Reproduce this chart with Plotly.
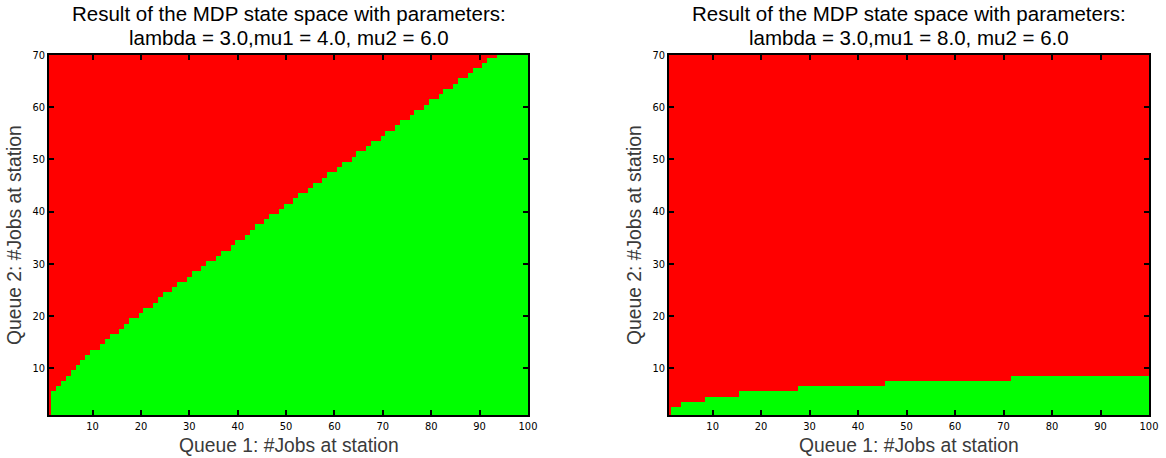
import numpy as np
import plotly.graph_objects as go

# Queue sizes (cell centres)
queue1_jobs = list(range(1, 101))
queue2_jobs = list(range(1, 71))

# Left panel (lambda=3, mu1=4, mu2=6): highest Queue-2 level that is "green" for each Queue-1 column
threshold_left = [
    0, 5, 6, 7, 8, 9, 10, 11, 12, 13,
    13, 14, 15, 16, 16, 17, 18, 19, 19, 20,
    21, 21, 22, 23, 24, 24, 25, 26, 26, 27,
    28, 28, 29, 30, 30, 31, 32, 32, 33, 34,
    34, 35, 36, 37, 37, 38, 39, 39, 40, 41,
    41, 42, 43, 43, 44, 45, 45, 46, 47, 47,
    48, 49, 49, 50, 51, 51, 52, 53, 53, 54,
    55, 55, 56, 57, 57, 58, 59, 59, 60, 61,
    61, 62, 63, 63, 64, 65, 65, 66, 67, 67,
    68, 69, 69, 70, 70, 70, 70, 70, 70, 70,
]

# Right panel (lambda=3, mu1=8, mu2=6)
threshold_right = (
    [0] + [2] * 2 + [3] * 5 + [4] * 7 + [5] * 12 + [6] * 18 + [7] * 26 + [8] * 29
)

title_line1 = "Result of the MDP state space with parameters:"
title_line2 = [
    "lambda = 3.0,mu1 = 4.0, mu2 = 6.0",
    "lambda = 3.0,mu1 = 8.0, mu2 = 6.0",
]
x_label = "Queue 1: #Jobs at station"
y_label = "Queue 2: #Jobs at station"
x_ticks = [10, 20, 30, 40, 50, 60, 70, 80, 90, 100]
y_ticks = [10, 20, 30, 40, 50, 60, 70]


def grid(thr):
    q2 = np.array(queue2_jobs)[:, None]
    t = np.array(thr)[None, :]
    return (q2 <= t).astype(int)


W, H = 1166, 458
fig = go.Figure()


def fx(s):
    return s / W


def fy(s):
    return 1 - s / H


panels = [
    (threshold_left, 49, 528),
    (threshold_right, 669, 1149),
]
top_px, bot_px = 55, 415

tick_font = dict(family="Liberation Sans Narrow, Arial Narrow, DejaVu Sans Condensed, sans-serif",
                 size=11, color="#000000")
label_font = dict(family="Liberation Sans, Arial, sans-serif", size=19.3, color="#3a3a3a")
title_font = dict(family="Liberation Sans, Arial, sans-serif", size=20.5, color="#000000")

for i, (thr, x0, x1) in enumerate(panels):
    sfx = "" if i == 0 else str(i + 1)
    fig.add_trace(go.Heatmap(
        x=queue1_jobs, y=queue2_jobs, z=grid(thr),
        colorscale=[[0, "#ff0000"], [1, "#00ff00"]],
        zmin=0, zmax=1, showscale=False,
        xaxis="x" + sfx, yaxis="y" + sfx, hoverinfo="skip",
    ))
    common = dict(
        ticks="inside", ticklen=5, tickwidth=1.5, tickcolor="black",
        showline=True, linecolor="black", linewidth=1.5, mirror="ticks",
        showgrid=False, zeroline=False, tickfont=tick_font, automargin=False,
    )
    fig.layout["xaxis" + sfx] = dict(
        domain=[fx(x0), fx(x1)], range=[1, 100], tickvals=x_ticks,
        anchor="y" + sfx, **common,
    )
    fig.layout["yaxis" + sfx] = dict(
        domain=[fy(bot_px), fy(top_px)], range=[1, 70], tickvals=y_ticks,
        anchor="x" + sfx, **common,
    )
    xc = fx((x0 + x1) / 2)
    fig.add_annotation(text=title_line1, xref="paper", yref="paper", x=xc, y=fy(13),
                       xanchor="center", yanchor="middle", showarrow=False, font=title_font)
    fig.add_annotation(text=title_line2[i], xref="paper", yref="paper", x=xc, y=fy(37),
                       xanchor="center", yanchor="middle", showarrow=False, font=title_font)
    fig.add_annotation(text=x_label, xref="paper", yref="paper", x=xc, y=fy(445),
                       xanchor="center", yanchor="middle", showarrow=False, font=label_font)
    fig.add_annotation(text=y_label, xref="paper", yref="paper", x=fx(x0 - 35),
                       y=fy((top_px + bot_px) / 2), xanchor="center", yanchor="middle",
                       textangle=-90, showarrow=False, font=label_font)

fig.update_layout(
    width=W, height=H, margin=dict(l=0, r=0, t=0, b=0),
    paper_bgcolor="white", plot_bgcolor="white", showlegend=False,
)

# remove the default 8px page margin so the figure sits at the window's top-left corner
fig.write_html("out.html", config={"displayModeBar": False},
               post_script="document.body.style.margin='0';")
